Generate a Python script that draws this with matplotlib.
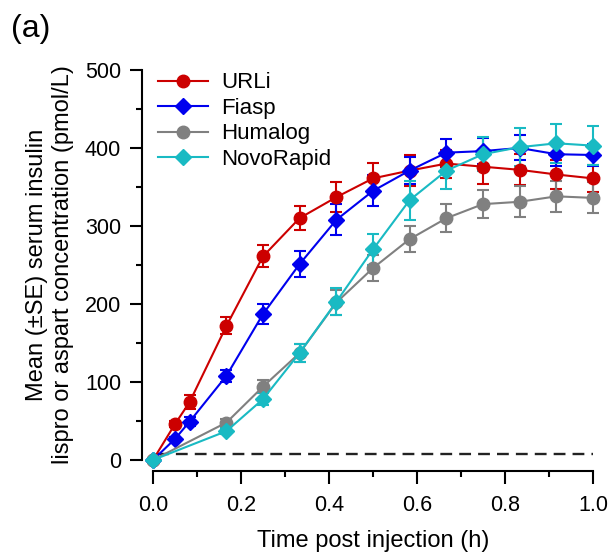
import matplotlib
matplotlib.use("Agg")
import matplotlib.pyplot as plt
from matplotlib.ticker import MultipleLocator

plt.rcParams["font.family"] = ["Liberation Sans", "DejaVu Sans"]

# time points (h)
t_fast = [0, 0.05, 0.083, 0.167, 0.25, 0.333, 0.417, 0.5, 0.583, 0.667, 0.75, 0.833, 0.917, 1.0]
t_slow = [0, 0.167, 0.25, 0.333, 0.417, 0.5, 0.583, 0.667, 0.75, 0.833, 0.917, 1.0]

urli = [0, 46, 74, 172, 261, 310, 337, 361, 371, 380, 376, 372, 366, 361]
urli_se = [0, 4, 9, 11, 14, 15, 19, 20, 20, 18, 22, 20, 18, 17]

fiasp = [0, 27, 49, 108, 187, 251, 308, 345, 371, 394, 396, 400, 392, 391]
fiasp_se = [0, 3, 6, 8, 13, 17, 20, 20, 17, 18, 17, 16, 15, 14]

humalog = [0, 48, 94, 137, 202, 246, 283, 310, 328, 331, 338, 336]
humalog_se = [0, 4, 8, 12, 16, 17, 17, 18, 18, 20, 20, 20]

novorapid = [0, 37, 78, 137, 203, 270, 333, 371, 392, 401, 406, 403]
novorapid_se = [0, 4, 8, 12, 17, 20, 25, 24, 22, 24, 25, 25]

lloq = 8

fig = plt.figure(figsize=(6.1, 5.54), dpi=100)
ax = fig.add_axes([0.2508, 0.1697, 0.7213, 0.704])

series = [
    ("URLi", t_fast, urli, urli_se, "#cc0000", "o"),
    ("Fiasp", t_fast, fiasp, fiasp_se, "#0000ee", "D"),
    ("Humalog", t_slow, humalog, humalog_se, "#808080", "o"),
    ("NovoRapid", t_slow, novorapid, novorapid_se, "#19bac3", "D"),
]

ax.plot([0.01, 1.0], [lloq, lloq], color="#222222", linestyle=(0, (5, 3)), linewidth=1.7, zorder=1)

for name, t, y, se, col, mk in series:
    ms = 9 if mk == "o" else 8
    ax.errorbar(t, y, yerr=se, color=col, marker=mk, markersize=ms, linewidth=1.5,
                elinewidth=1.5, capsize=4, capthick=1.5, label=name, clip_on=False)

ax.set_xlim(0, 1.0)
ax.set_ylim(0, 500)
ax.xaxis.set_major_locator(MultipleLocator(0.2))
ax.xaxis.set_minor_locator(MultipleLocator(0.1))
ax.yaxis.set_major_locator(MultipleLocator(100))
ax.yaxis.set_minor_locator(MultipleLocator(50))
ax.xaxis.set_major_formatter(plt.FormatStrFormatter("%.1f"))

for s in ["top", "right"]:
    ax.spines[s].set_visible(False)
ax.spines["left"].set_position(("outward", 8))
ax.spines["bottom"].set_position(("outward", 8))
ax.spines["left"].set_linewidth(1.5)
ax.spines["bottom"].set_linewidth(1.5)
ax.tick_params(which="major", length=9, width=1.5, labelsize=15.5, pad=6)
ax.tick_params(axis="x", which="major", pad=8)
ax.tick_params(which="minor", length=4.5, width=1.5)

ax.set_xlabel("Time post injection (h)", fontsize=17, labelpad=10)
ax.set_ylabel("Mean (\u00b1SE) serum insulin\nlispro or aspart concentration (pmol/L)",
              fontsize=17, labelpad=8)

handles, labels = ax.get_legend_handles_labels()
handles = [h[0] for h in handles]
ax.legend(handles, labels, loc="upper left", bbox_to_anchor=(-0.035, 1.045), frameon=False,
          fontsize=16, handlelength=2.25, handletextpad=0.6, labelspacing=0.2)

fig.text(0.018, 0.975, "(a)", fontsize=23, va="top", ha="left")

fig.savefig("out.png", dpi=100)
